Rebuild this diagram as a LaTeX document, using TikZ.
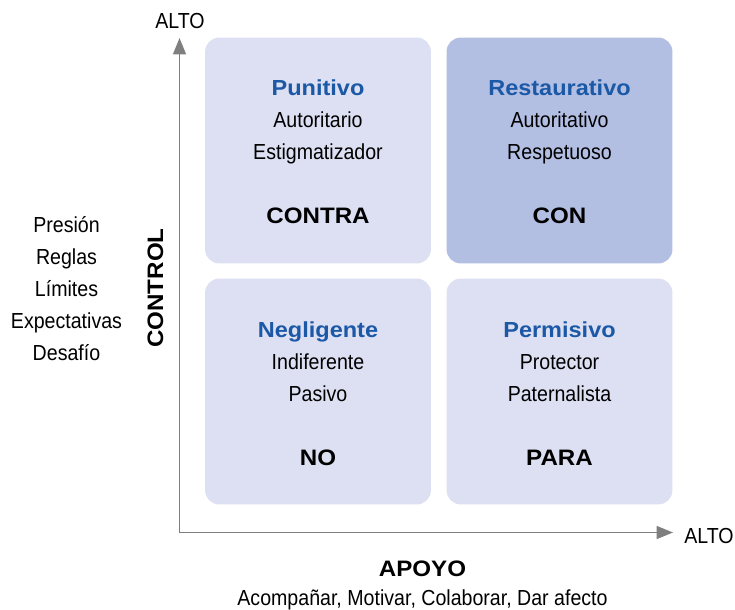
\documentclass[tikz,border=0pt]{standalone}
\usepackage{fontspec}
\setmainfont{Liberation Sans}
\newfontfamily\condfont[FakeStretch=0.9]{Liberation Sans}
\newfontfamily\blackfont[FakeStretch=1.08]{Liberation Sans}
\usetikzlibrary{arrows.meta}

\definecolor{boxlight}{HTML}{DDE0F2}
\definecolor{boxdark}{HTML}{B3BEE3}
\definecolor{titleblue}{HTML}{1B58A6}
\definecolor{axisgray}{HTML}{7F7F7F}

\begin{document}
\begin{tikzpicture}[x=0.85pt, y=-0.85pt, outer sep=0pt]
\useasboundingbox (0,0) rectangle (735,609);

\tikzstyle{quad}=[rectangle, rounded corners=12pt, minimum width=192pt, minimum height=192pt, fill=boxlight]
\tikzstyle{heading}=[anchor=base, text=titleblue, font=\blackfont\bfseries\fontsize{18.5}{18.5}\selectfont]
\tikzstyle{desc}=[anchor=base, font=\condfont\fontsize{18.5}{18.5}\selectfont]
\tikzstyle{verdict}=[anchor=base, font=\blackfont\bfseries\fontsize{19}{19}\selectfont]
\tikzstyle{axis}=[draw=axisgray, line width=1.6pt, -{Triangle[length=14pt, width=11pt, fill=axisgray]}]

% cuadrantes
\node[quad] (pun) at (318,150.5) {}; \node[quad, fill=boxdark] (res) at (559.5,150.5) {};
\node[quad] (neg) at (318,391.5) {}; \node[quad] (per) at (559.5,391.5) {};

\node[heading] (pun1) at (318,95) {Punitivo}; \node[desc] (pun2) at (318,127) {Autoritario};
\node[desc] (pun3) at (318,159) {Estigmatizador}; \node[verdict] (pun4) at (318,223) {CONTRA};
\node[heading] (res1) at (559.5,95) {Restaurativo}; \node[desc] (res2) at (559.5,127) {Autoritativo};
\node[desc] (res3) at (559.5,159) {Respetuoso}; \node[verdict] (res4) at (559.5,223) {CON};
\node[heading] (neg1) at (318,337) {Negligente}; \node[desc] (neg2) at (318,369) {Indiferente};
\node[desc] (neg3) at (318,401) {Pasivo}; \node[verdict] (neg4) at (318,465) {NO};
\node[heading] (per1) at (559.5,337) {Permisivo}; \node[desc] (per2) at (559.5,369) {Protector};
\node[desc] (per3) at (559.5,401) {Paternalista}; \node[verdict] (per4) at (559.5,465) {PARA};

% ejes
\coordinate (orig) at (179.5,532.5);
\coordinate (ytip) at (179.5,38);
\coordinate (xtip) at (673,532.5);
\draw[axis] (orig) -- (ytip);
\draw[axis] (orig) -- (xtip);
\node[desc] (altoy) at (180,28) {ALTO};
\node[desc] (altox) at (709,543) {ALTO};

\node[verdict, rotate=90] (control) at (163,288) {CONTROL};
\node[desc] (l1) at (66.5,232) {Presión}; \node[desc] (l2) at (66.5,264) {Reglas};
\node[desc] (l3) at (66.5,296) {Límites}; \node[desc] (l4) at (66.5,328) {Expectativas};
\node[desc] (l5) at (66.5,360) {Desafío};

\node[verdict] (apoyo) at (422.5,576) {APOYO};
\node[desc] (acomp) at (422.5,605) {Acompañar, Motivar, Colaborar, Dar afecto};

\end{tikzpicture}
\end{document}
